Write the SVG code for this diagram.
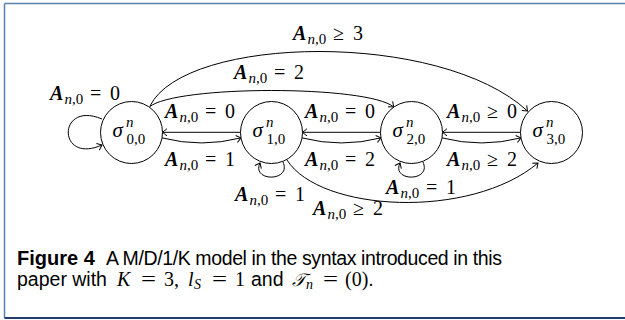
<svg xmlns="http://www.w3.org/2000/svg" width="625" height="320" viewBox="0 0 625 320">
<defs>
<style>
.edge{fill:none;stroke:#000;stroke-width:1}
.node{fill:#fff;stroke:#000;stroke-width:1}
.A{font-family:"Liberation Serif",serif;font-weight:bold;font-style:italic;font-size:20px}
.s{font-family:"Liberation Serif",serif;font-style:italic;font-size:15px}
.r{font-family:"Liberation Serif",serif;font-style:normal;font-size:15px}
.m{font-family:"Liberation Serif",serif;font-size:20px}
.sig{font-family:"Liberation Serif",serif;font-style:italic;font-size:21px}
.sup{font-family:"Liberation Serif",serif;font-style:italic;font-size:15px}
.sub{font-family:"Liberation Serif",serif;font-size:15px}
.cap{font-family:"Liberation Sans",sans-serif;font-size:19.5px}
.capb{font-family:"Liberation Sans",sans-serif;font-size:20px;font-weight:bold}
.ci{font-family:"Liberation Serif",serif;font-style:italic;font-size:20px}
.cm{font-family:"Liberation Serif",serif;font-size:20px}
.cs{font-family:"Liberation Serif",serif;font-style:italic;font-size:14px}
</style>
<marker id="ar" viewBox="-6 -5 8 10" markerWidth="8" markerHeight="10" refX="0" refY="0" orient="auto" markerUnits="userSpaceOnUse">
<path d="M-4.5,-3.6 Q-1,-0.8 0,0 Q-1,0.8 -4.5,3.6" fill="none" stroke="#000" stroke-width="1"/>
</marker>
</defs>
<rect width="625" height="320" fill="#fff"/>
<g id="frame">
<line x1="4.5" y1="3.5" x2="625" y2="3.5" stroke="#5a80b0" stroke-width="1.5"/>
<line x1="4.5" y1="3.5" x2="4.5" y2="318" stroke="#5a80b0" stroke-width="1.5"/>
<line x1="4.5" y1="318" x2="625" y2="318" stroke="#1f3d70" stroke-width="2"/>
</g>
<g id="edges">
<path class="edge" marker-end="url(#ar)" d="M102,119 C57,100 57,165 102,145"/>
<path class="edge" marker-end="url(#ar)" d="M240.5,132.3 L162.5,132.3"/>
<path class="edge" marker-end="url(#ar)" d="M162,137.9 Q201.5,148 240.9,137.9"/>
<path class="edge" marker-end="url(#ar)" d="M380.5,132.3 L302.5,132.3"/>
<path class="edge" marker-end="url(#ar)" d="M302,137.9 Q341.5,148 380.9,137.9"/>
<path class="edge" marker-end="url(#ar)" d="M520.5,132.3 L442.5,132.3"/>
<path class="edge" marker-end="url(#ar)" d="M442,137.9 Q481.5,148 520.9,137.9"/>
<path class="edge" marker-end="url(#ar)" d="M149.3,107 C175,85 368,85 393.7,107"/>
<path class="edge" marker-end="url(#ar)" d="M150,106 C185,35 440,30 527.5,111"/>
<path class="edge" marker-end="url(#ar)" d="M287,160 C320,212 470,220 538,163"/>
<path class="edge" marker-end="url(#ar)" d="M283,162 C292,182 251,182 260,163"/>
<path class="edge" marker-end="url(#ar)" d="M423,162 C432,182 391,182 400,163"/>
</g>
<g id="labels">
<g transform="translate(50,100)"><text class="A" x="0" y="0">A</text><text class="s" x="14.5" y="4">n<tspan class="r">,0</tspan></text><text class="m" x="40" y="0">=</text><text class="m" x="60" y="0">0</text></g>
<g transform="translate(293,40)"><text class="A" x="0" y="0">A</text><text class="s" x="14.5" y="4">n<tspan class="r">,0</tspan></text><text class="m" x="40" y="0">≥</text><text class="m" x="60" y="0">3</text></g>
<g transform="translate(234,79)"><text class="A" x="0" y="0">A</text><text class="s" x="14.5" y="4">n<tspan class="r">,0</tspan></text><text class="m" x="40" y="0">=</text><text class="m" x="60" y="0">2</text></g>
<g transform="translate(165,118)"><text class="A" x="0" y="0">A</text><text class="s" x="14.5" y="4">n<tspan class="r">,0</tspan></text><text class="m" x="40" y="0">=</text><text class="m" x="60" y="0">0</text></g>
<g transform="translate(165,166)"><text class="A" x="0" y="0">A</text><text class="s" x="14.5" y="4">n<tspan class="r">,0</tspan></text><text class="m" x="40" y="0">=</text><text class="m" x="60" y="0">1</text></g>
<g transform="translate(305,118)"><text class="A" x="0" y="0">A</text><text class="s" x="14.5" y="4">n<tspan class="r">,0</tspan></text><text class="m" x="40" y="0">=</text><text class="m" x="60" y="0">0</text></g>
<g transform="translate(305,166)"><text class="A" x="0" y="0">A</text><text class="s" x="14.5" y="4">n<tspan class="r">,0</tspan></text><text class="m" x="40" y="0">=</text><text class="m" x="60" y="0">2</text></g>
<g transform="translate(447,118)"><text class="A" x="0" y="0">A</text><text class="s" x="14.5" y="4">n<tspan class="r">,0</tspan></text><text class="m" x="40" y="0">≥</text><text class="m" x="60" y="0">0</text></g>
<g transform="translate(447,166)"><text class="A" x="0" y="0">A</text><text class="s" x="14.5" y="4">n<tspan class="r">,0</tspan></text><text class="m" x="40" y="0">≥</text><text class="m" x="60" y="0">2</text></g>
<g transform="translate(235,201)"><text class="A" x="0" y="0">A</text><text class="s" x="14.5" y="4">n<tspan class="r">,0</tspan></text><text class="m" x="40" y="0">=</text><text class="m" x="60" y="0">1</text></g>
<g transform="translate(386,194)"><text class="A" x="0" y="0">A</text><text class="s" x="14.5" y="4">n<tspan class="r">,0</tspan></text><text class="m" x="40" y="0">=</text><text class="m" x="60" y="0">1</text></g>
<g transform="translate(313,215)"><text class="A" x="0" y="0">A</text><text class="s" x="14.5" y="4">n<tspan class="r">,0</tspan></text><text class="m" x="40" y="0">≥</text><text class="m" x="60" y="0">2</text></g>
</g>
<g id="n00"><circle class="node" cx="131.5" cy="132.5" r="31"/><text class="sig" x="112.5" y="137">σ</text><text class="sup" x="126" y="127">n</text><text class="sub" x="126.5" y="144">0,0</text></g>
<g id="n10"><circle class="node" cx="271.5" cy="132.5" r="31"/><text class="sig" x="252.5" y="137">σ</text><text class="sup" x="266" y="127">n</text><text class="sub" x="266.5" y="144">1,0</text></g>
<g id="n20"><circle class="node" cx="411.5" cy="132.5" r="31"/><text class="sig" x="392.5" y="137">σ</text><text class="sup" x="406" y="127">n</text><text class="sub" x="406.5" y="144">2,0</text></g>
<g id="n30"><circle class="node" cx="551.5" cy="132.5" r="31"/><text class="sig" x="532.5" y="137">σ</text><text class="sup" x="546" y="127">n</text><text class="sub" x="546.5" y="144">3,0</text></g>
<g id="caption">
<text class="capb" x="17" y="265">Figure 4</text>
<text class="cap" x="106" y="265" textLength="396" lengthAdjust="spacing">A M/D/1/K model in the syntax introduced in this</text>
<text class="cap" x="17" y="286">paper with</text>
<text class="ci" x="117" y="286">K</text>
<text class="cm" x="141" y="286" textLength="15" lengthAdjust="spacingAndGlyphs">=</text>
<text class="cm" x="164" y="286">3,</text>
<text class="ci" x="188" y="286">l</text>
<text class="cs" x="194" y="289">S</text>
<text class="cm" x="212" y="286" textLength="15" lengthAdjust="spacingAndGlyphs">=</text>
<text class="cm" x="235" y="286">1</text>
<text class="cap" x="251" y="286">and</text>
<text class="ci" x="292" y="286" style="font-family:'DejaVu Serif','Liberation Serif',serif;font-size:18px">𝒯</text>
<text class="cs" x="306" y="289">n</text>
<text class="cm" x="323" y="286" textLength="15" lengthAdjust="spacingAndGlyphs">=</text>
<text x="345" y="286"><tspan class="cm">(0)</tspan><tspan class="cap">.</tspan></text>
</g>
</svg>
